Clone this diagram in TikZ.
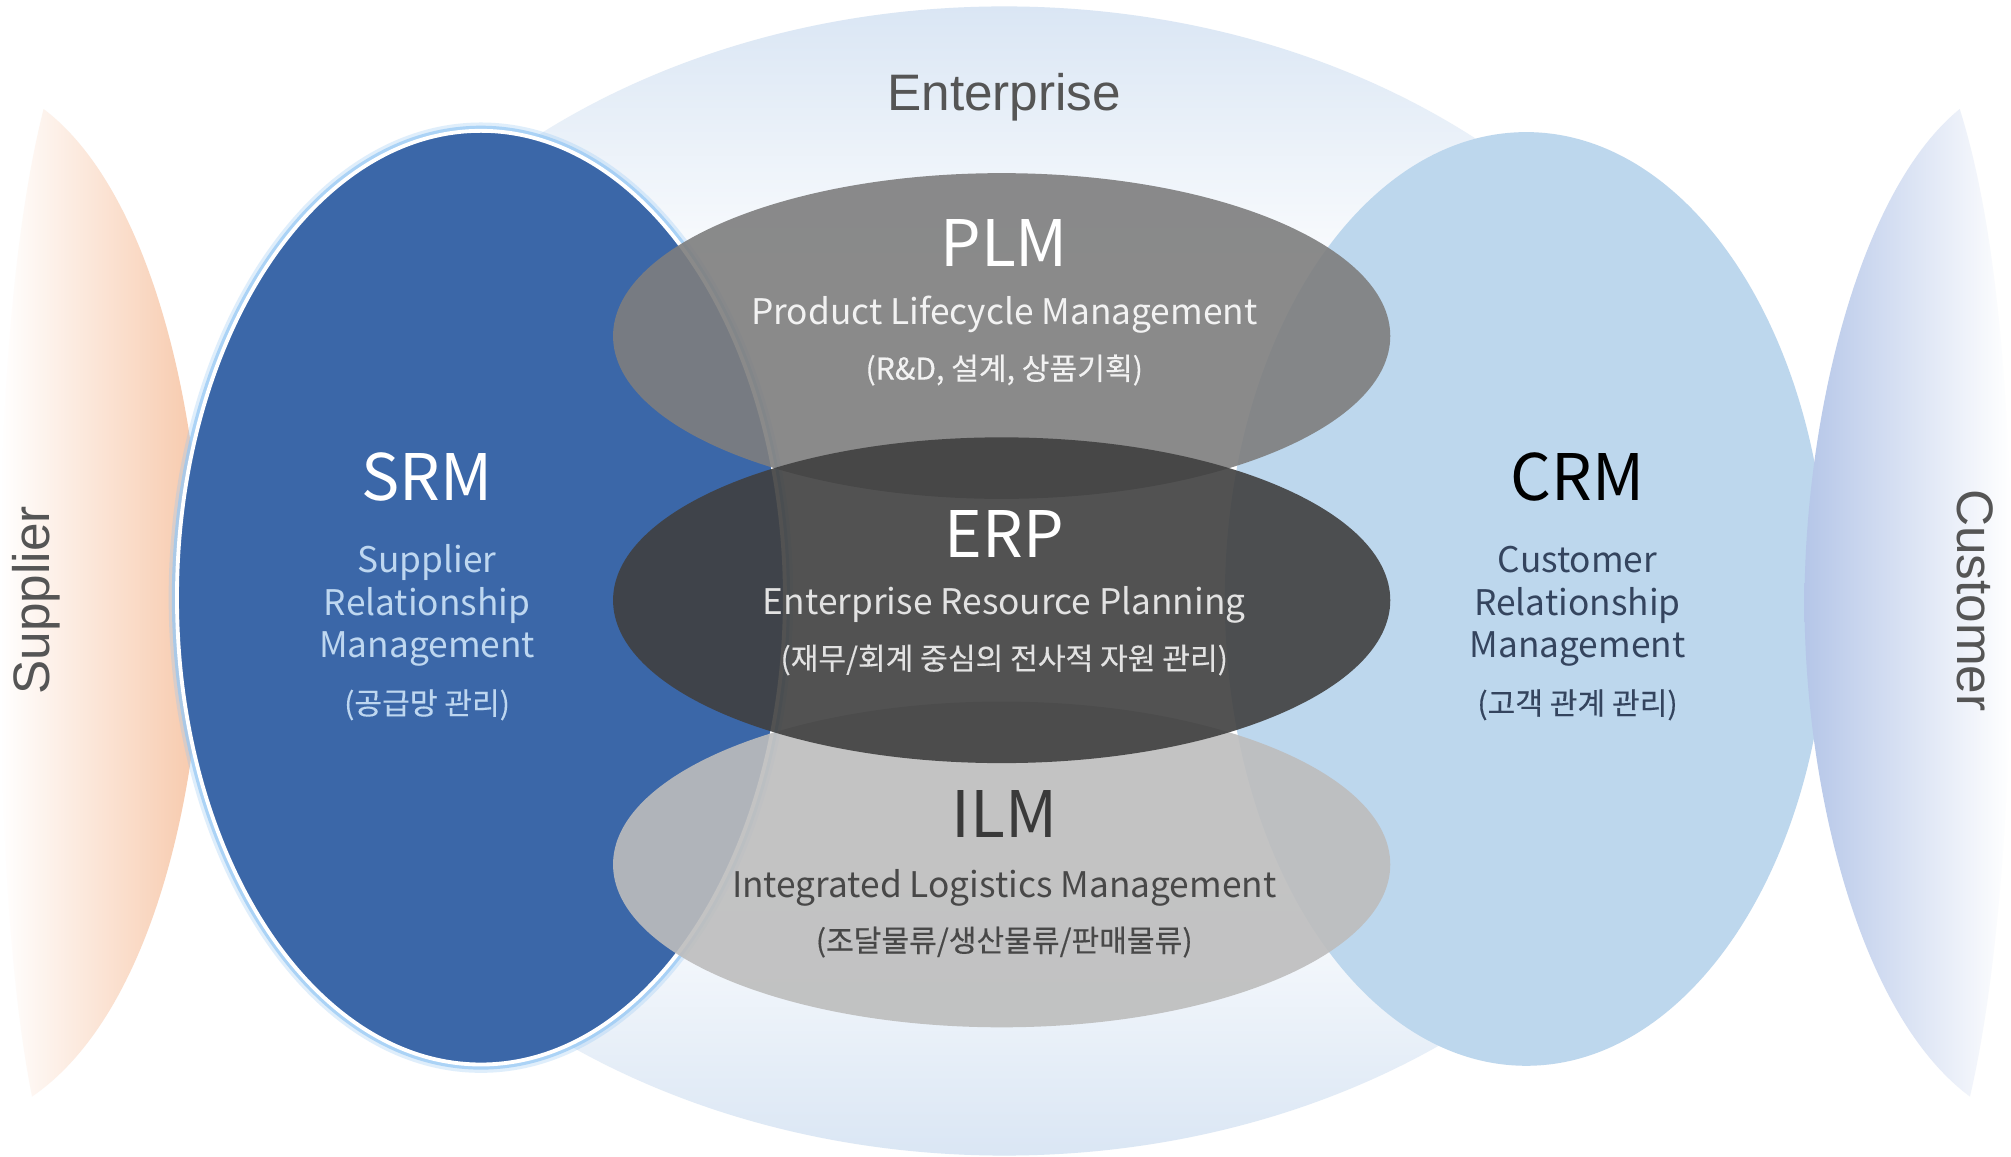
\documentclass[tikz,border=0pt]{standalone}
\usepackage{fontspec}
\setmainfont{Noto Sans CJK KR}
\newfontfamily\krfont{Noto Sans CJK KR}
\newfontfamily\krbfont[FakeBold=0.35]{Noto Sans CJK KR}
\newfontfamily\arialfont{Liberation Sans}
\definecolor{entblue}{RGB}{218,230,244}
\definecolor{supp}{RGB}{247,200,170}
\definecolor{cust}{RGB}{181,198,232}
\definecolor{srmblue}{RGB}{59,103,168}
\definecolor{glowblue}{RGB}{150,200,245}
\definecolor{crmblue}{RGB}{189,215,237}
\definecolor{plmgray}{RGB}{126,126,126}
\definecolor{erpgray}{RGB}{64,64,64}
\definecolor{ilmgray}{RGB}{189,189,189}
\definecolor{labgray}{RGB}{85,85,85}
\definecolor{srmtxt}{RGB}{190,215,240}
\definecolor{crmtxt}{RGB}{52,68,94}
\definecolor{erptxt}{RGB}{226,226,226}
\definecolor{ilmtitle}{RGB}{58,58,58}
\definecolor{ilmtxt}{RGB}{72,72,72}
\pgfdeclareverticalshading{entshade}{100bp}{color(0bp)=(entblue); color(25bp)=(entblue); color(38bp)=(white); color(62bp)=(white); color(75bp)=(entblue); color(100bp)=(entblue)}
\begin{document}
\begin{tikzpicture}[x=1pt,y=-1pt,
  lbl/.style={inner sep=0pt, anchor=base},
  bigt/.style={lbl, font=\krfont\fontsize{50}{56}\selectfont},
  engt/.style={lbl, font=\krfont\fontsize{27.5}{32}\selectfont},
  kort/.style={lbl, font=\krbfont\fontsize{23.5}{28}\selectfont},
  side/.style={inner sep=0pt, text=labgray, font=\arialfont\fontsize{40}{46}\selectfont},
  grayell/.style={fill opacity=0.9}]
\useasboundingbox (0,0) rectangle (1568,902);
\fill[white] (0,0) rectangle (1568,902);
% Enterprise background ellipse
\path[shading=entshade] (783,453) ellipse [x radius=576pt, y radius=448pt];
% Supplier crescent
\path[left color=white, right color=supp]
  (34,85) .. controls (120,150) and (158,330) .. (158,470)
  .. controls (158,610) and (120,790) .. (25,855)
  .. controls (6,760) and (0,620) .. (0,470)
  .. controls (0,320) and (10,180) .. (34,85) -- cycle;
% SRM ellipse with glow
\path[draw=glowblue, line width=7pt, draw opacity=0.3] (375,466) ellipse [x radius=240pt, y radius=367pt];
\path[draw=glowblue, line width=4pt, draw opacity=0.7] (375,466) ellipse [x radius=239pt, y radius=366pt];
\path[fill=srmblue, draw=white, line width=3pt] (375,466) ellipse [x radius=237pt, y radius=364pt];
% CRM ellipse
\path[fill=crmblue] (1190,467) ellipse [x radius=235pt, y radius=364pt];
% Customer crescent
\path[left color=cust, right color=white]
  (1528,85) .. controls (1448,150) and (1407,330) .. (1407,470)
  .. controls (1407,610) and (1448,790) .. (1536,855)
  .. controls (1558,760) and (1568,620) .. (1568,470)
  .. controls (1568,320) and (1558,180) .. (1528,85) -- cycle;
% central ellipses
\path[grayell, fill=plmgray] (781,262) ellipse [x radius=303pt, y radius=127pt];
\path[grayell, fill=ilmgray] (781,674) ellipse [x radius=303pt, y radius=127pt];
\path[grayell, fill=erpgray] (781,468) ellipse [x radius=303pt, y radius=127pt];
% labels
\node[lbl, text=labgray, font=\arialfont\fontsize{40}{46}\selectfont] (ent) at (783,86) {Enterprise};
\node[side, rotate=90] (supl) at (28,468) {Supplier};
\node[side, rotate=-90] (cust) at (1540,468) {Customer};
% PLM
\node[bigt, text=white] (plm) at (783,208) {PLM};
\node[engt, text=white!95!black] (plme) at (783,253) {Product Lifecycle Management};
\node[kort, text=white!95!black] (plmk) at (783,296) {(R\&D, 설계, 상품기획)};
% ERP
\node[bigt, text=white] (erp) at (783,435) {ERP};
\node[engt, text=erptxt] (erpe) at (783,479) {Enterprise Resource Planning};
\node[kort, text=erptxt] (erpk) at (783,522) {(재무/회계 중심의 전사적 자원 관리)};
% ILM
\node[bigt, text=ilmtitle] (ilm) at (783,653) {ILM};
\node[engt, text=ilmtxt] (ilme) at (783,700) {Integrated Logistics Management};
\node[kort, text=ilmtxt] (ilmk) at (783,742) {(조달물류/생산물류/판매물류)};
% SRM
\node[bigt, text=white] (srm) at (333,390) {SRM};
\node[engt, text=srmtxt] (srm1) at (333,446) {Supplier};
\node[engt, text=srmtxt] (srm2) at (333,480) {Relationship};
\node[engt, text=srmtxt] (srm3) at (333,513) {Management};
\node[kort, text=srmtxt] (srmk) at (333,557) {(공급망 관리)};
% CRM
\node[bigt, text=black] (crm) at (1230,390) {CRM};
\node[engt, text=crmtxt] (crm1) at (1230,446) {Customer};
\node[engt, text=crmtxt] (crm2) at (1230,480) {Relationship};
\node[engt, text=crmtxt] (crm3) at (1230,513) {Management};
\node[kort, text=crmtxt] (crmk) at (1230,557) {(고객 관계 관리)};
\end{tikzpicture}
\end{document}
